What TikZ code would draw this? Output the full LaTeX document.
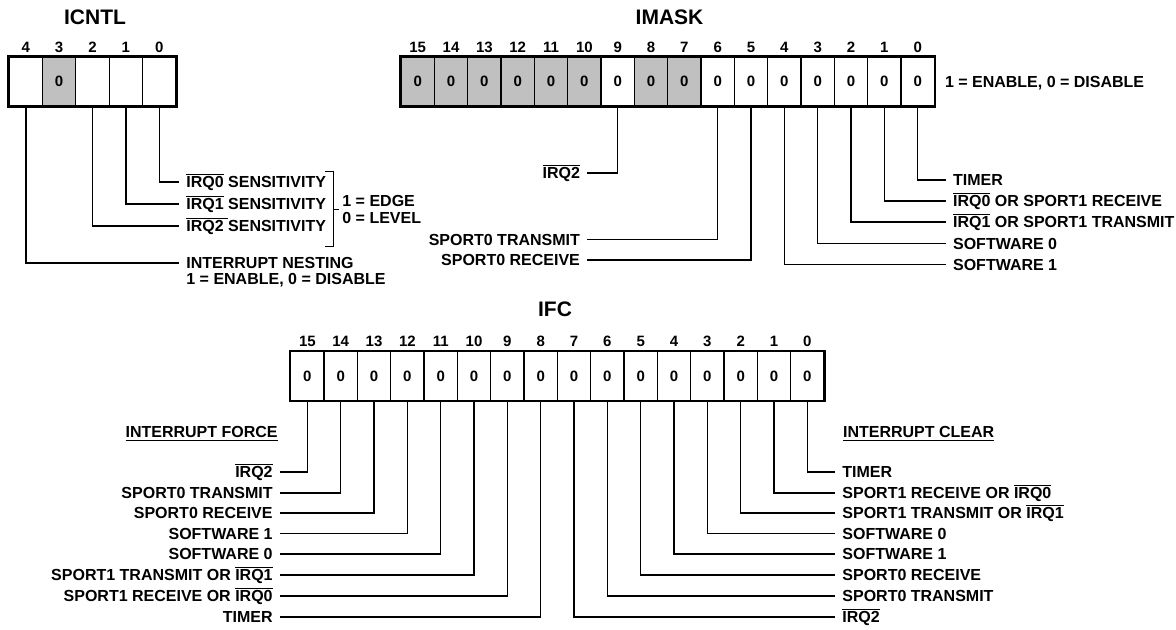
\documentclass[tikz,border=0pt]{standalone}
\usepackage{fontspec}
\setmainfont{Liberation Sans}
\usetikzlibrary{positioning}
\definecolor{regGray}{RGB}{192,192,192}
\newcommand{\ovl}[1]{\leavevmode\vbox{\hrule height 0.6pt\kern 0.7pt\hbox{#1}}}

\begin{document}
\begin{tikzpicture}[x=0.5pt,y=-0.5pt,
    bitcell/.style={draw,line width=0.65pt,minimum width=16.67pt,minimum height=24.5pt,inner sep=0pt,font=\fontsize{7.5}{8}\selectfont\bfseries},
    bitno/.style={inner sep=0pt,font=\fontsize{7.5}{8}\selectfont\bfseries},
    regtitle/.style={inner sep=0pt,font=\fontsize{10.5}{12}\selectfont\bfseries},
    labbase/.style={inner xsep=3.5pt,inner ysep=0pt,font=\fontsize{8}{8.5}\selectfont\bfseries},
    lab/.style={labbase,text height=5.73pt,text depth=0pt},
    leader/.style={line width=0.8pt},
    regframe/.style={line width=1pt}]
\useasboundingbox (0,0) rectangle (1176,630);

        % ICNTL
        \node[regtitle] (icntl) at (95,17.5) {ICNTL};
        \foreach \b/\v/\c in {4//white,3/0/regGray,2//white,1//white,0//white} {
            \pgfmathsetmacro\xx{25.7+(4-\b)*33.4}
            \node[bitcell,fill=\c] (c\b) at (\xx,81.5) {\v};
            \node[bitno] at (\xx,47) {\b};
        }
        \draw[regframe] (c4.north west) rectangle (c0.south east);
        \node[lab,anchor=west] (s0) at (179,182) {\ovl{IRQ0} SENSITIVITY};
        \node[lab,anchor=west] (s1) at (179,204) {\ovl{IRQ1} SENSITIVITY};
        \node[lab,anchor=west] (s2) at (179,226) {\ovl{IRQ2\ }SENSITIVITY};
        \node[lab,anchor=west] (nest) at (179,263) {INTERRUPT NESTING};
        \node[lab,below=1.77pt of nest.south west,anchor=north west] (nestval) {1 = ENABLE, 0 = DISABLE};
        \draw[leader] (c0.south) |- (s0.west);
        \draw[leader] (c1.south) |- (s1.west);
        \draw[leader] (c2.south) |- (s2.west);
        \draw[leader] (c4.south) |- (nest.west);
        \node[labbase,inner xsep=1.5pt,align=left,anchor=west] (level) at (339,209.4) {1 = EDGE\\0 = LEVEL};
        \draw[leader] (325,171.7) -- (333.3,171.7) -- (333.3,246.7) -- (325,246.7);
        \draw[leader] (333.3,209.4) -- (level.west);

        % IMASK
        \node[regtitle] (imask) at (669.5,17.5) {IMASK};
        \foreach \b/\c in {15/regGray,14/regGray,13/regGray,12/regGray,11/regGray,10/regGray,9/white,8/regGray,
                           7/regGray,6/white,5/white,4/white,3/white,2/white,1/white,0/white} {
            \pgfmathsetmacro\xx{417.67+(15-\b)*33.333}
            \node[bitcell,fill=\c] (m\b) at (\xx,81.5) {0};
            \node[bitno] at (\xx,47) {\b};
        }
        \draw[regframe] (m15.north west) rectangle (m0.south east);
        \node[lab,right=1.3pt of m0] (enable) {1 = ENABLE, 0 = DISABLE};
        \foreach \b/\yy/\t in {9/173/{\ovl{IRQ2}},6/239.5/{SPORT0 TRANSMIT},5/260/{SPORT0 RECEIVE}} {
            \node[lab,anchor=east] (k\b) at (587.3,\yy) {\t};
            \draw[leader] (m\b.south) |- (k\b.east);
        }
        \foreach \b/\yy/\t in {0/180/{TIMER},1/201/{\ovl{IRQ0} OR SPORT1 RECEIVE},2/222/{\ovl{IRQ1} OR SPORT1 TRANSMIT},
                               3/243.5/{SOFTWARE 0},4/264.5/{SOFTWARE 1}} {
            \node[lab,anchor=west] (k\b) at (945.7,\yy) {\t};
            \draw[leader] (m\b.south) |- (k\b.west);
        }

        % IFC
        \node[regtitle] (ifc) at (555,309) {IFC};
        \foreach \b in {0,...,15} {
            \pgfmathsetmacro\xx{307.35+(15-\b)*33.333}
            \node[bitcell,fill=white] (f\b) at (\xx,376) {0};
            \node[bitno] at (\xx,341.2) {\b};
        }
        \draw[regframe] (f15.north west) rectangle (f0.south east);
        \node[lab,anchor=east] (force) at (285,431.7) {\underline{INTERRUPT FORCE}};
        \node[lab,anchor=west] (clear) at (835.7,431.7) {\underline{INTERRUPT CLEAR}};
        \foreach \b/\yy/\t in {15/472/{\ovl{IRQ2}},14/492.7/{SPORT0 TRANSMIT},13/513/{SPORT0 RECEIVE},12/533.5/{SOFTWARE 1},
                               11/554/{SOFTWARE 0},10/575/{SPORT1 TRANSMIT OR \ovl{IRQ1}},9/596/{SPORT1 RECEIVE OR \ovl{IRQ0}},8/617/{TIMER}} {
            \node[lab,anchor=east] (g\b) at (280,\yy) {\t};
            \draw[leader] (f\b.south) |- (g\b.east);
        }
        \foreach \b/\yy/\t in {0/472/{TIMER},1/492.7/{SPORT1 RECEIVE OR \ovl{IRQ0}},2/513/{SPORT1 TRANSMIT OR \ovl{IRQ1}},3/533.5/{SOFTWARE 0},
                               4/554/{SOFTWARE 1},5/575/{SPORT0 RECEIVE},6/596/{SPORT0 TRANSMIT},7/617/{\ovl{IRQ2}}} {
            \node[lab,anchor=west] (g\b) at (835,\yy) {\t};
            \draw[leader] (f\b.south) |- (g\b.west);
        }
\end{tikzpicture}
\end{document}
